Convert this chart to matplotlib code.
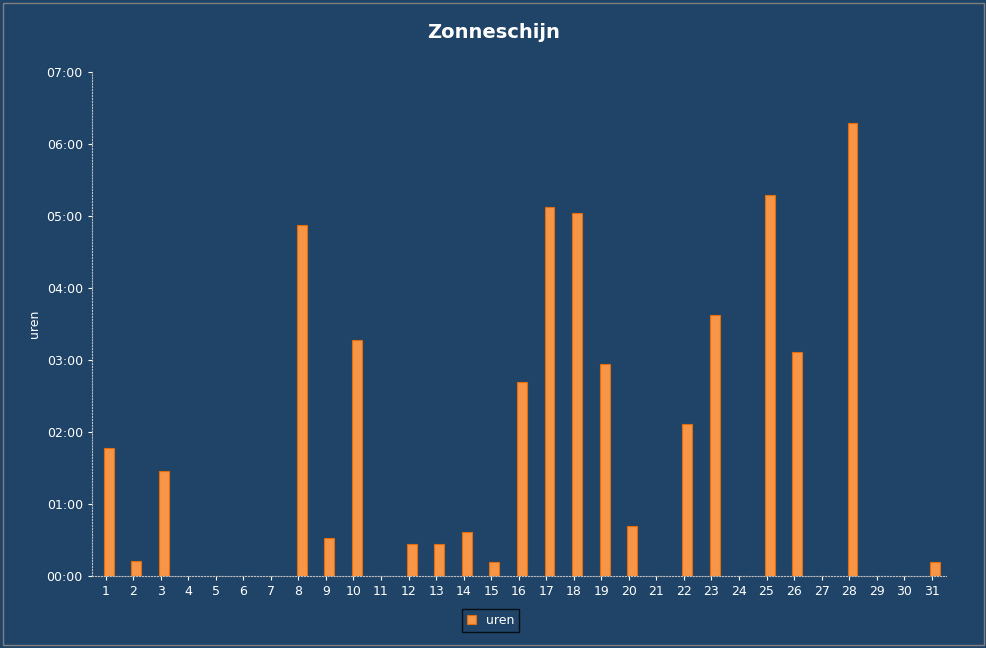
import matplotlib
matplotlib.use("Agg")
import matplotlib.pyplot as plt
from matplotlib.ticker import FuncFormatter, MultipleLocator

days = list(range(1, 32))
hours = [1.78, 0.21, 1.46, 0, 0, 0, 0, 4.88, 0.53, 3.28, 0, 0.44, 0.44, 0.61, 0.19,
         2.69, 5.13, 5.04, 2.94, 0.69, 0, 2.11, 3.63, 0, 5.29, 3.11, 0, 6.29, 0, 0, 0.19]

bg = "#1F4468"
fig = plt.figure(figsize=(9.87, 6.48), dpi=100, facecolor=bg)
ax = fig.add_axes([0.093, 0.111, 0.865, 0.778], facecolor=bg)
ax.bar([d + 0.12 for d in days], hours, width=0.36, color="#F79646", edgecolor="#E46C0A",
       linewidth=0.8, label="uren")
ax.set_xlim(0.5, 31.5)
ax.set_ylim(0, 7)
ax.yaxis.set_major_locator(MultipleLocator(1))
ax.yaxis.set_major_formatter(FuncFormatter(lambda v, p: f"{int(v):02d}:00"))
ax.set_xticks(days)
ax.tick_params(colors="white", labelsize=9, length=3)
for s in ["top", "right"]:
    ax.spines[s].set_visible(False)
for s in ["left", "bottom"]:
    ax.spines[s].set_color("#BFBFBF")
    ax.spines[s].set_linestyle(":")
ax.set_ylabel("uren", color="white", fontsize=9)
fig.suptitle("Zonneschijn", color="white", fontsize=14, fontweight="bold", y=0.965)
leg = fig.legend(loc="lower center", bbox_to_anchor=(0.497, 0.015), fontsize=9,
                 facecolor=bg, edgecolor="black", handlelength=0.7, fancybox=False)
for t in leg.get_texts():
    t.set_color("white")
fig.patches.append(plt.Rectangle((0.003, 0.005), 0.994, 0.99, transform=fig.transFigure,
                                 fill=False, edgecolor="#7F7F7F", linewidth=1))
fig.savefig("out.png", dpi=100, facecolor=bg)
